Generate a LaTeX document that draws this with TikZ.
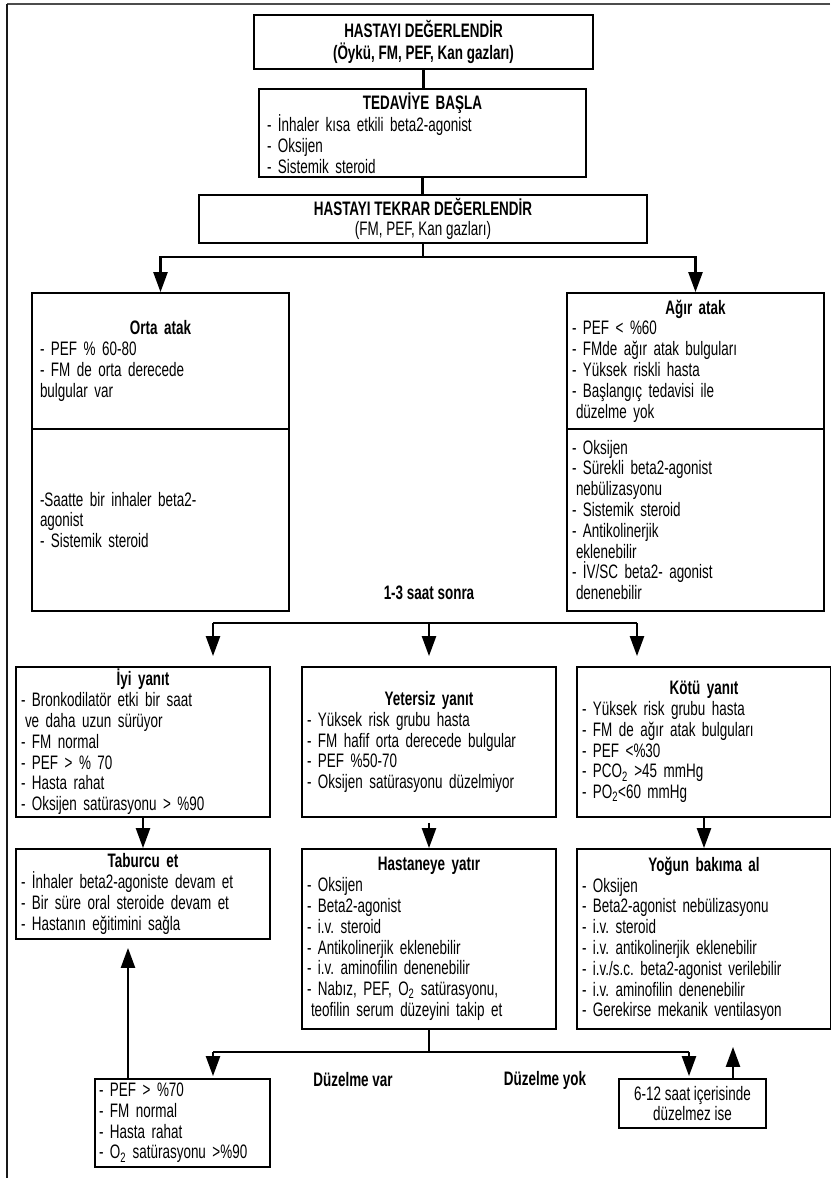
\documentclass[tikz,border=0pt]{standalone}
\usepackage{fontspec}
\setmainfont{Liberation Sans}[FakeStretch=0.69]
\usetikzlibrary{arrows.meta,positioning}
\frenchspacing
\newcommand{\btitle}[1]{{\centering\bfseries #1\par}}
\newcommand{\ind}{\hspace*{4pt}}

\begin{document}
\begin{tikzpicture}[
    x=1pt, y=-1pt,
    >={Triangle[length=20pt,width=14pt]},
    box/.style={draw, line width=1.8pt, inner xsep=5pt, inner ysep=0pt, align=left,
                font=\fontsize{19.5}{20.8}\selectfont},
    lbl/.style={font=\fontsize{19.5}{20.8}\selectfont\bfseries},
    wire/.style={line width=2.4pt},
    arr/.style={wire, ->},
  ]
  \useasboundingbox (0,0) rectangle (830,1178);
  \draw[line width=2.5pt, black!70] (830,4) -- (7,4);
  \draw[line width=2pt, black!90] (7,4) -- (7,1178);

  % ---------------- first assessment
  \node[box, align=center, minimum width=339, minimum height=54,
        font=\fontsize{19.5}{22}\selectfont\bfseries] (hd) at (423.5,42)
       {HASTAYI DEĞERLENDİR\\(Öykü, FM, PEF, Kan gazları)};
  \node[box, inner xsep=8pt, text width=311, minimum height=88] (td) at (422.5,133)
       {\btitle{TEDAVİYE BAŞLA}- İnhaler kısa etkili beta2-agonist\\- Oksijen\\- Sistemik steroid};
  \node[box, align=center, minimum width=448, minimum height=48] (th) at (423,219)
       {\textbf{HASTAYI TEKRAR DEĞERLENDİR}\\(FM, PEF, Kan gazları)};
  \draw[wire] (hd.south) -- (hd.south |- td.north);
  \draw[wire] (td.south) -- (td.south |- th.north);

  % ---------------- attack level
  \node[box, inner xsep=8pt, text width=241, minimum height=136] (ortaA) at (160.5,361)
       {\btitle{Orta atak}- PEF \% 60-80\\- FM de orta derecede\\bulgular var};
  \node[box, inner xsep=8pt, text width=241, minimum height=182] (ortaB) at (160.5,520)
       {-Saatte bir inhaler beta2-\\agonist\\- Sistemik steroid};
  \node[box, text width=247, minimum height=136] (agirA) at (695.5,361)
       {\btitle{Ağır atak}- PEF < \%60\\- FMde ağır atak bulguları\\- Yüksek riskli hasta\\
        - Başlangıç tedavisi ile\\\ind düzelme yok};
  \node[box, text width=247, minimum height=182] (agirB) at (695.5,520)
       {- Oksijen\\- Sürekli beta2-agonist\\\ind nebülizasyonu\\- Sistemik steroid\\
        - Antikolinerjik\\\ind eklenebilir\\- İV/SC beta2- agonist\\\ind denenebilir};
  \coordinate (j1) at (423,257);
  \draw[wire] (th.south) -- (j1);
  \draw[arr] (j1) -| (ortaA.north);
  \draw[arr] (j1) -| (agirA.north);

  % ---------------- response
  \node[lbl] (saat) at (429,593) {1-3 saat sonra};
  \node[box, text width=244, minimum height=150] (iyi) at (143,742)
       {\btitle{İyi yanıt}- Bronkodilatör etki bir saat\\\ind ve daha uzun sürüyor\\- FM normal\\
        - PEF > \% 70\\- Hasta rahat\\- Oksijen satürasyonu > \%90};
  \node[box, text width=244, minimum height=150] (yet) at (429,742)
       {\btitle{Yetersiz yanıt}- Yüksek risk grubu hasta\\- FM hafif orta derecede bulgular\\
        - PEF \%50-70\\- Oksijen satürasyonu düzelmiyor};
  \node[box, text width=244, minimum height=150] (kot) at (704,742)
       {\btitle{Kötü yanıt}- Yüksek risk grubu hasta\\- FM de ağır atak bulguları\\- PEF <\%30\\
        - PCO\textsubscript{2} >45 mmHg\\- PO\textsubscript{2}<60 mmHg};
  \coordinate (b2l) at (213,623);
  \coordinate (b2r) at (637,623);
  \draw[wire] (b2l) -- (b2r);
  \draw[arr, shorten >=10pt] (b2l) -- (b2l |- iyi.north);
  \draw[arr, shorten >=10pt] (yet.north |- b2l) -- (yet.north);
  \draw[arr, shorten >=10pt] (b2r) -- (b2r |- kot.north);

  % ---------------- what to do
  \node[box, text width=244, minimum height=90] (tab) at (143,894)
       {\btitle{Taburcu et}- İnhaler beta2-agoniste devam et\\- Bir süre oral steroide devam et\\
        - Hastanın eğitimini sağla};
  \node[box, text width=244, minimum height=180] (hast) at (429,939)
       {\btitle{Hastaneye yatır}- Oksijen\\- Beta2-agonist\\- i.v. steroid\\- Antikolinerjik eklenebilir\\
        - i.v. aminofilin denenebilir\\- Nabız, PEF, O\textsubscript{2} satürasyonu,\\
        \ind teofilin serum düzeyini takip et};
  \node[box, text width=244, minimum height=180] (yog) at (704,939)
       {\btitle{Yoğun bakıma al}- Oksijen\\- Beta2-agonist nebülizasyonu\\- i.v. steroid\\
        - i.v. antikolinerjik eklenebilir\\- i.v./s.c. beta2-agonist verilebilir\\
        - i.v. aminofilin denenebilir\\- Gerekirse mekanik ventilasyon};
  \draw[arr] (iyi.south) -- (tab.north);
  \draw[arr, shorten <=5pt] (yet.south) -- (hast.north);
  \draw[arr] (kot.south) -- (yog.north);

  % ---------------- follow-up
  \node[box, inner xsep=4pt, text width=167, minimum height=88] (pl) at (182.5,1123)
       {- PEF > \%70\\- FM normal\\- Hasta rahat\\- O\textsubscript{2} satürasyonu >\%90};
  \node[box, align=center, minimum width=147, minimum height=49] (sk) at (692.5,1103.5)
       {6-12 saat içerisinde\\düzelmez ise};
  \node[lbl] (dv) at (353,1080) {Düzelme var};
  \node[lbl] (dy) at (545,1080) {Düzelme yok};
  \coordinate (b3l) at (213,1052);
  \coordinate (b3r) at (689,1052);
  \draw[wire] (hast.south) -- (hast.south |- b3l);
  \draw[wire] (b3l) -- (b3r);
  \draw[arr, shorten >=2pt] (b3l) -- (b3l |- pl.north);
  \draw[arr, shorten >=2pt] (b3r) -- (b3r |- sk.north);
  \coordinate (u1) at ([xshift=-54.5pt]pl.north);
  \coordinate (u2) at ([xshift=40.5pt]sk.north);
  \draw[arr, shorten >=8pt] (u1) -- (u1 |- tab.south);
  \draw[arr, shorten >=17pt] (u2) -- (u2 |- yog.south);
\end{tikzpicture}
\end{document}
